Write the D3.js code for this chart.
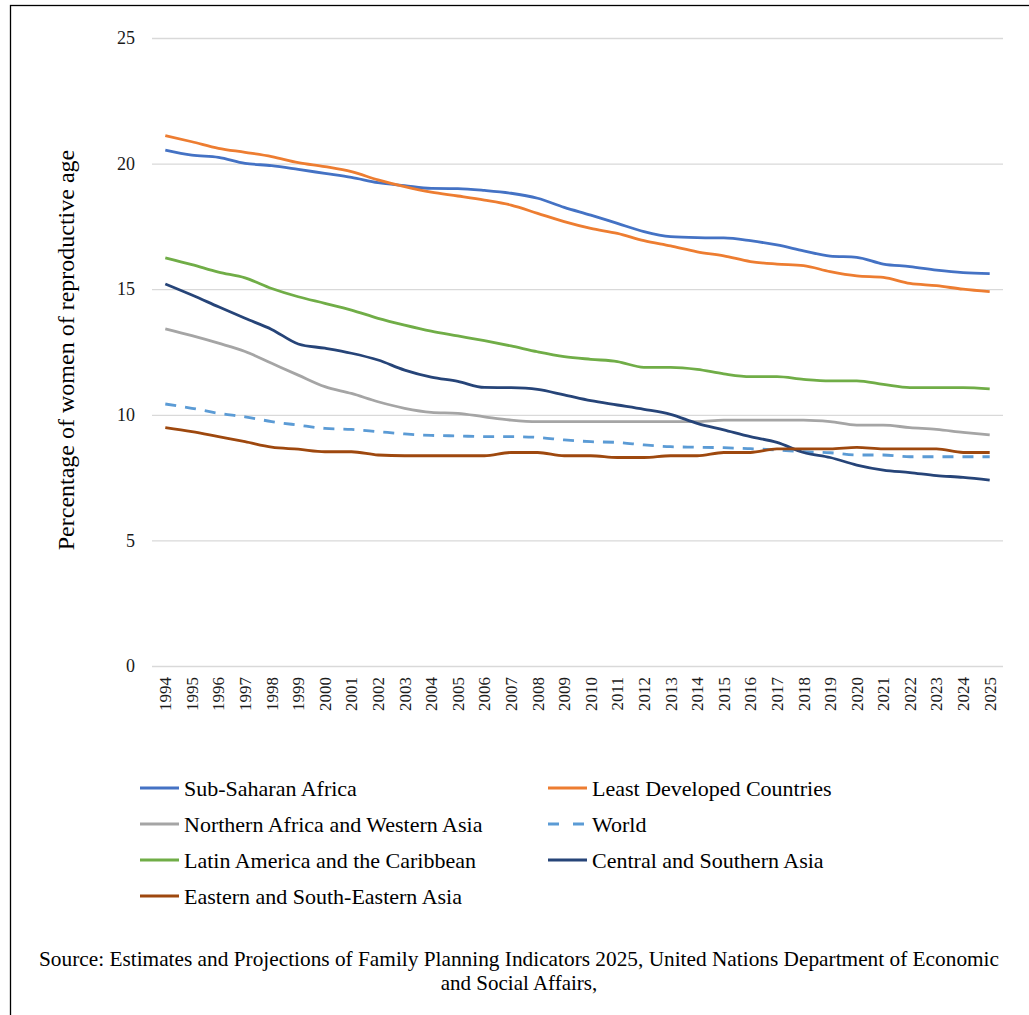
<!DOCTYPE html>
<html>
<head>
<meta charset="utf-8">
<script src="https://cdn.jsdelivr.net/npm/d3@7"></script>
<style>
  html, body { margin: 0; padding: 0; background: #fff; }
  svg { display: block; font-family: "Liberation Serif", "Times New Roman", serif; }
</style>
</head>
<body>
<svg id="chart" width="1029" height="1015"></svg>
<script>
// Unmet need for family planning, % of women of reproductive age, 1994–2025
const years = d3.range(1994, 2026).map(String);

const subSaharanAfrica = [20.54, 20.34, 20.25, 20.01, 19.92, 19.77, 19.61, 19.45, 19.24, 19.12, 19.01, 19.0, 18.93, 18.82, 18.62, 18.26, 17.95, 17.62, 17.29, 17.09, 17.05, 17.04, 16.93, 16.76, 16.53, 16.32, 16.27, 16.0, 15.9, 15.76, 15.66, 15.62];
const leastDeveloped = [21.11, 20.87, 20.61, 20.45, 20.28, 20.04, 19.88, 19.68, 19.35, 19.08, 18.86, 18.71, 18.55, 18.35, 18.02, 17.69, 17.42, 17.22, 16.93, 16.72, 16.49, 16.33, 16.1, 16.0, 15.94, 15.7, 15.53, 15.47, 15.23, 15.14, 15.0, 14.9];
const northAfricaWestAsia = [13.42, 13.15, 12.85, 12.52, 12.05, 11.58, 11.12, 10.85, 10.52, 10.26, 10.1, 10.06, 9.92, 9.79, 9.73, 9.73, 9.73, 9.73, 9.73, 9.73, 9.73, 9.79, 9.79, 9.79, 9.79, 9.73, 9.59, 9.59, 9.49, 9.42, 9.3, 9.2];
const world = [10.43, 10.26, 10.06, 9.92, 9.73, 9.59, 9.46, 9.42, 9.33, 9.24, 9.18, 9.16, 9.13, 9.13, 9.1, 9.0, 8.93, 8.9, 8.8, 8.73, 8.71, 8.69, 8.65, 8.6, 8.53, 8.49, 8.4, 8.4, 8.33, 8.33, 8.33, 8.33];
const latinAmerica = [16.25, 15.98, 15.68, 15.45, 15.03, 14.7, 14.44, 14.17, 13.84, 13.57, 13.33, 13.14, 12.95, 12.74, 12.51, 12.32, 12.21, 12.12, 11.89, 11.89, 11.81, 11.63, 11.52, 11.52, 11.41, 11.35, 11.35, 11.21, 11.08, 11.08, 11.08, 11.03];
const centralSouthAsia = [15.21, 14.77, 14.3, 13.84, 13.4, 12.82, 12.65, 12.45, 12.18, 11.78, 11.5, 11.33, 11.09, 11.08, 11.01, 10.79, 10.56, 10.39, 10.22, 10.02, 9.66, 9.4, 9.13, 8.9, 8.5, 8.3, 8.0, 7.8, 7.7, 7.58, 7.51, 7.4];
const eastSouthEastAsia = [9.49, 9.33, 9.13, 8.93, 8.71, 8.63, 8.53, 8.53, 8.4, 8.37, 8.37, 8.37, 8.37, 8.5, 8.5, 8.37, 8.37, 8.3, 8.3, 8.37, 8.37, 8.5, 8.5, 8.64, 8.64, 8.64, 8.7, 8.64, 8.64, 8.64, 8.5, 8.5];

const yTicks = [0, 5, 10, 15, 20, 25];

const series = [
  { name: "Sub-Saharan Africa", values: subSaharanAfrica, color: "#4472C4", dash: null },
  { name: "Least Developed Countries", values: leastDeveloped, color: "#ED7D31", dash: null },
  { name: "Northern Africa and Western Asia", values: northAfricaWestAsia, color: "#A5A5A5", dash: null },
  { name: "World", values: world, color: "#5B9BD5", dash: "11,9" },
  { name: "Latin America and the Caribbean", values: latinAmerica, color: "#70AD47", dash: null },
  { name: "Central and Southern Asia", values: centralSouthAsia, color: "#264478", dash: null },
  { name: "Eastern and South-Eastern Asia", values: eastSouthEastAsia, color: "#9E480E", dash: null }
];

const serif = "'Liberation Serif', 'Times New Roman', serif";
const svg = d3.select("#chart");

// outer frame
svg.append("rect")
  .attr("x", 10.5).attr("y", 5.5)
  .attr("width", 1100).attr("height", 1100)
  .attr("fill", "none").attr("stroke", "#000").attr("stroke-width", 1.3);

const plot = { left: 152, right: 1003, top: 38, bottom: 666 };

const x = d3.scaleBand().domain(years).range([plot.left, plot.right]);
const y = d3.scaleLinear().domain([0, 25]).range([plot.bottom, plot.top]);

// horizontal gridlines + y labels
const yAxis = svg.append("g")
  .attr("transform", `translate(${plot.left},0)`)
  .call(d3.axisLeft(y).tickValues(yTicks).tickSize(-(plot.right - plot.left)).tickPadding(17).tickFormat(d3.format("d")));
yAxis.select(".domain").remove();
yAxis.selectAll(".tick line").attr("stroke", "#d9d9d9").attr("stroke-width", 1.3);
yAxis.selectAll(".tick text")
  .attr("font-family", serif)
  .attr("font-size", 18).attr("fill", "#1a1a1a");

// x labels, rotated
const xAxis = svg.append("g")
  .attr("transform", `translate(0,${plot.bottom})`)
  .call(d3.axisBottom(x).tickSize(0).tickPadding(0));
xAxis.select(".domain").remove();
xAxis.selectAll(".tick text")
  .attr("font-family", serif)
  .attr("font-size", 17).attr("fill", "#1a1a1a")
  .attr("transform", "rotate(-90)")
  .attr("text-anchor", "end")
  .attr("x", -11).attr("y", 0).attr("dy", "0.35em");

// y-axis title
svg.append("text")
  .attr("transform", `translate(74,350) rotate(-90)`)
  .attr("text-anchor", "middle")
  .attr("font-family", serif)
  .attr("font-size", 24).attr("fill", "#000")
  .text("Percentage of women of reproductive age");

// lines
const line = d3.line()
  .x((d, i) => x(years[i]) + x.bandwidth() / 2)
  .y(d => y(d))
  .curve(d3.curveMonotoneX);

svg.append("g").selectAll("path")
  .data(series)
  .join("path")
  .attr("d", s => line(s.values))
  .attr("fill", "none")
  .attr("stroke", s => s.color)
  .attr("stroke-width", 2.8)
  .attr("stroke-linejoin", "round")
  .attr("stroke-dasharray", s => s.dash);

// legend: two columns
const legend = svg.append("g");
const items = legend.selectAll("g")
  .data(series)
  .join("g")
  .attr("transform", (s, i) => `translate(${i % 2 === 0 ? 140 : 548},${788 + Math.floor(i / 2) * 36})`);
items.append("line")
  .attr("x1", 0).attr("x2", 39).attr("y1", 0).attr("y2", 0)
  .attr("stroke", s => s.color).attr("stroke-width", 2.8)
  .attr("stroke-dasharray", s => s.dash ? "11,14" : null);
items.append("text")
  .attr("x", 44).attr("y", 0).attr("dy", "0.35em")
  .attr("font-family", serif)
  .attr("font-size", 22).attr("fill", "#000")
  .text(s => s.name);

// source note
const note = svg.append("g").attr("font-family", serif).attr("font-size", 21).attr("fill", "#000").attr("text-anchor", "middle");
note.append("text").attr("x", 519).attr("y", 966)
  .attr("textLength", 960).attr("lengthAdjust", "spacingAndGlyphs")
  .text("Source: Estimates and Projections of Family Planning Indicators 2025, United Nations Department of Economic");
note.append("text").attr("x", 519).attr("y", 990)
  .text("and Social Affairs,");
</script>
</body>
</html>
